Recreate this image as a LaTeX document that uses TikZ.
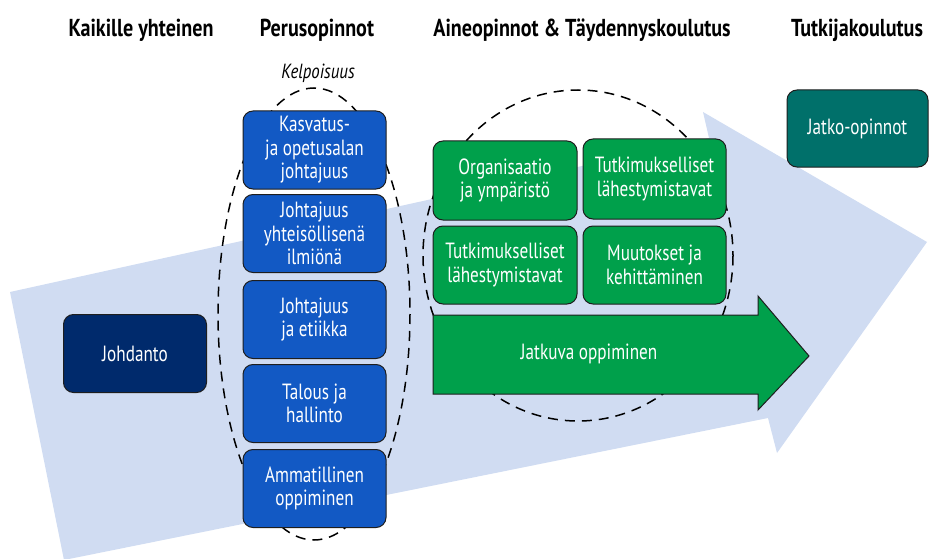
\documentclass[tikz,border=0pt]{standalone}
\usepackage{fontspec}
\setmainfont{PT Sans}[FakeStretch=0.82]
\newfontfamily\boxfam{PT Sans}[FakeStretch=0.78]
\usetikzlibrary{shapes.geometric}
\definecolor{bgarrow}{RGB}{208,220,242}
\definecolor{navybox}{RGB}{0,42,108}
\definecolor{bluebox}{RGB}{18,89,196}
\definecolor{greenbox}{RGB}{0,160,75}
\definecolor{tealbox}{RGB}{0,112,106}
\definecolor{edgecol}{RGB}{30,30,30}
\newcommand{\boxfnt}{\boxfam\fontsize{22}{23.5}\selectfont}
\tikzset{
  rbox/.style={draw=edgecol, line width=1pt, rounded corners=10pt, text=white,
    align=center, inner sep=0pt, font=\boxfnt},
  heading/.style={font=\bfseries\fontsize{24.5}{28}\selectfont, text=black, inner sep=0pt, anchor=base},
  dashring/.style={draw=black, line width=1.5pt, dash pattern=on 10pt off 7pt},
}
\begin{document}
\begin{tikzpicture}[x=1pt,y=-1pt]
\useasboundingbox (0,0) rectangle (929,559);
\begin{scope}
\clip (0,0) rectangle (929,559);
% big background arrow
\fill[bgarrow] (10,292) -- (709,138) -- (703,112) -- (927,242) -- (777,453) -- (768,418) -- (64,560) -- cycle;
\end{scope}
% headings
\node[heading] (h1) at (141,36.5) {Kaikille yhteinen};
\node[heading] (h2) at (317,36.5) {Perusopinnot};
\node[heading] (h3) at (582,36.5) {Aineopinnot \& Täydennyskoulutus};
\node[heading] (h4) at (857,36.5) {Tutkijakoulutus};
\node[font=\itshape\fontsize{20.5}{24}\selectfont, inner sep=0pt, anchor=base] (kelp) at (318,78.5) {Kelpoisuus};
% dashed ellipses
\draw[dashring] (314,314) ellipse [x radius=96, y radius=226];
\draw[dashring] (578,255.5) ellipse [x radius=155, y radius=165.5];
% Johdanto
\node[rbox, fill=navybox, minimum width=143pt, minimum height=78pt] (joh) at (135,353.5) {Johdanto};
% blue boxes
\node[rbox, fill=bluebox, minimum width=143pt, minimum height=78pt] (b1) at (314.5,150) {Kasvatus-\\ja opetusalan\\johtajuus};
\node[rbox, fill=bluebox, minimum width=143pt, minimum height=78pt] (b2) at (314.5,233.5) {Johtajuus\\yhteisöllisenä\\ilmiönä};
\node[rbox, fill=bluebox, minimum width=143pt, minimum height=78pt] (b3) at (314.5,319.5) {Johtajuus\\ja etiikka};
\node[rbox, fill=bluebox, minimum width=143pt, minimum height=78pt] (b4) at (314.5,403.5) {Talous ja\\hallinto};
\node[rbox, fill=bluebox, minimum width=143pt, minimum height=78pt] (b5) at (314.5,488.5) {Ammatillinen\\oppiminen};
% green boxes
\node[rbox, fill=greenbox, minimum width=144pt, minimum height=79pt] (g1) at (505,180.5) {Organisaatio\\ja ympäristö};
\node[rbox, fill=greenbox, minimum width=143pt, minimum height=80pt] (g2) at (654.5,179) {Tutkimukselliset\\lähestymistavat};
\node[rbox, fill=greenbox, minimum width=144pt, minimum height=78pt] (g3) at (505,265) {Tutkimukselliset\\lähestymistavat};
\node[rbox, fill=greenbox, minimum width=143pt, minimum height=78pt] (g4) at (654.5,265) {Muutokset ja\\kehittäminen};
% green arrow
\draw[draw=edgecol, line width=1pt, fill=greenbox, line join=miter]
  (433,315) -- (758,315) -- (758,296) -- (809,356) -- (758,410) -- (758,394) -- (433,394) -- cycle;
\node[font=\boxfnt, text=white, inner sep=0pt] (jatk) at (589,354) {Jatkuva oppiminen};
% Jatko-opinnot
\node[rbox, fill=tealbox, minimum width=141pt, minimum height=77pt] (jo) at (857.5,128.5) {Jatko-opinnot};
\end{tikzpicture}
\end{document}
